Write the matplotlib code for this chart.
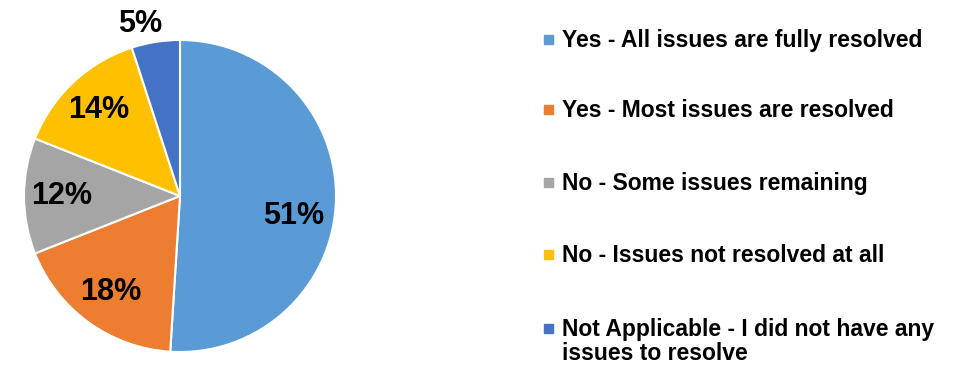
import matplotlib.pyplot as plt
from matplotlib.patches import Rectangle
import numpy as np

plt.rcParams['font.family'] = ['Liberation Sans', 'DejaVu Sans']

# Survey answers
answers = ['Yes - All issues are fully resolved',
           'Yes - Most issues are resolved',
           'No - Some issues remaining',
           'No - Issues not resolved at all',
           'Not Applicable - I did not have any\nissues to resolve']
shares = [51, 18, 12, 14, 5]
colors = ['#5B9BD5', '#ED7D31', '#A5A5A5', '#FFC000', '#4472C4']

W, H = 979, 365
fig = plt.figure(figsize=(W / 100, H / 100), dpi=100)

# Pie area: centre (180, 196) px from top-left, radius 156 px
cx, cy, r = 180, 196, 156
ax = fig.add_axes([(cx - r) / W, (H - cy - r) / H, 2 * r / W, 2 * r / H])
wedges, texts, autotexts = ax.pie(
    shares, colors=colors, startangle=90, counterclock=False,
    autopct='%d%%', pctdistance=0.75,
    wedgeprops=dict(edgecolor='white', linewidth=1.5),
    textprops=dict(fontsize=22, fontweight='bold', color='black'))
ax.set_xlim(-1, 1)
ax.set_ylim(-1, 1)
ax.set_aspect('equal')

# Fine-tune label spots (distance from centre, angle nudge in degrees)
label_dist = [0.74, 0.76, 0.76, 0.76, 1.13]
label_turn = [-8, 0, 0, 0, 4]
for w, t, d, turn in zip(wedges, autotexts, label_dist, label_turn):
    mid = np.deg2rad((w.theta1 + w.theta2) / 2 + turn)
    t.set_position((d * np.cos(mid), d * np.sin(mid)))
    t.set_clip_on(False)

# Legend on the right, drawn item by item (baseline of first line, px from top)
baselines = [47, 117, 190, 262, 336]
line_step = 24
for label, color, base in zip(answers, colors, baselines):
    extra = label.count('\n') * line_step
    fig.text(562 / W, 1 - (base + extra) / H, label, fontsize=16.5,
             fontweight='bold', va='baseline', ha='left', linespacing=1.05)
    size = 9
    fig.patches.append(Rectangle(((553 - size) / W, (H - base + 8 - size / 2) / H),
                                 size / W, size / H, color=color,
                                 transform=fig.transFigure, figure=fig))

fig.savefig('out.png', dpi=100)
